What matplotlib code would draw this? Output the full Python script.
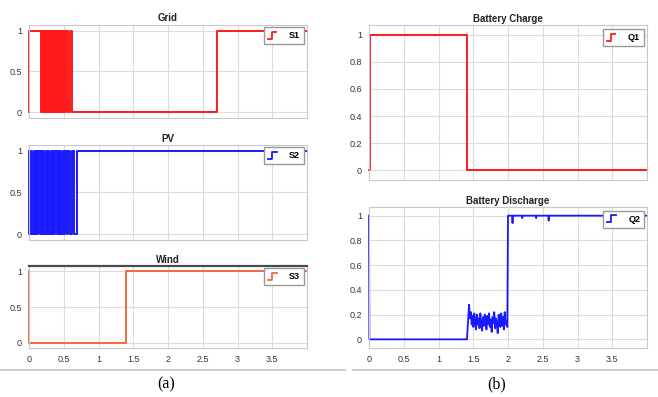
import numpy as np
import matplotlib
matplotlib.use("Agg")
import matplotlib.pyplot as plt
from matplotlib.lines import Line2D
from matplotlib.legend_handler import HandlerBase

plt.rcParams['font.family'] = ['Liberation Sans', 'DejaVu Sans']

# ---- data (switching signals, time in s) ----
grid_t = [0, 0.004, 0.170, 0.183, 0.192, 0.205, 0.214, 0.226, 0.235, 0.248,
          0.257, 0.270, 0.279, 0.291, 0.300, 0.313, 0.322, 0.335, 0.344, 0.356,
          0.365, 0.378, 0.387, 0.400, 0.409, 0.421, 0.430, 0.443, 0.452, 0.465,
          0.474, 0.486, 0.495, 0.505, 0.520, 0.535, 0.565, 0.585, 0.612, 2.70, 4.0]
grid_v = [0, 1, 0, 1, 0, 1, 0, 1, 0, 1,
          0, 1, 0, 1, 0, 1, 0, 1, 0, 1,
          0, 1, 0, 1, 0, 1, 0, 1, 0, 1,
          0, 1, 0, 1, 0, 1, 0, 1, 0, 1, 1]

pv_t = [0, 0.006, 0.030, 0.048, 0.066, 0.084, 0.100, 0.118, 0.136, 0.152,
        0.170, 0.188, 0.204, 0.222, 0.240, 0.256, 0.274, 0.292, 0.310, 0.326,
        0.344, 0.362, 0.378, 0.396, 0.414, 0.432, 0.448, 0.466, 0.484, 0.502,
        0.520, 0.548, 0.566, 0.596, 0.614, 0.645, 0.695, 4.0]
pv_v = [1, 0, 1, 0, 1, 0, 1, 0, 1, 0,
        1, 0, 1, 0, 1, 0, 1, 0, 1, 0,
        1, 0, 1, 0, 1, 0, 1, 0, 1, 0,
        1, 0, 1, 0, 1, 0, 1, 1]

wind_t = [0, 0.005, 1.40, 4.0]
wind_v = [1, 0, 1, 1]

charge_t = [0, 0.012, 1.41, 4.0]
charge_v = [0, 1, 0, 0]

discharge_t = [0, 0.005, 1.41, 1.425, 1.440, 1.452, 1.465, 1.477, 1.490,
               1.502, 1.515, 1.527, 1.540, 1.552, 1.565, 1.577, 1.590, 1.602,
               1.615, 1.627, 1.640, 1.652, 1.665, 1.677, 1.690, 1.702, 1.715,
               1.727, 1.740, 1.752, 1.765, 1.777, 1.790, 1.802, 1.815, 1.827,
               1.840, 1.852, 1.865, 1.877, 1.890, 1.902, 1.915, 1.927, 1.940,
               1.952, 1.965, 1.977, 1.990, 2.000, 2.010, 2.060, 2.065, 2.070,
               2.200, 2.205, 2.210, 2.400, 2.405, 2.410, 2.580, 2.585, 2.590, 4.0]
discharge_v = [1, 0, 0, 0.15, 0.28, 0.17, 0.22, 0.12, 0.19,
               0.10, 0.21, 0.14, 0.08, 0.20, 0.12, 0.17, 0.09, 0.21,
               0.13, 0.07, 0.18, 0.11, 0.20, 0.15, 0.08, 0.19, 0.12,
               0.21, 0.10, 0.16, 0.06, 0.18, 0.13, 0.22, 0.09, 0.17,
               0.12, 0.05, 0.20, 0.14, 0.10, 0.21, 0.11, 0.18, 0.08,
               0.22, 0.12, 0.15, 0.10, 1.0, 1.0, 1.0, 0.94, 1.0,
               1.0, 0.98, 1.0, 1.0, 0.98, 1.0, 1.0, 0.96, 1.0, 1.0]

xticks = [0, 0.5, 1, 1.5, 2, 2.5, 3, 3.5]
xlabels = ['0', '0.5', '1', '1.5', '2', '2.5', '3', '3.5']

RED = '#ff1a1a'
BLUE = '#1a1aff'
ORANGE = '#f06a3c'


class StepHandler(HandlerBase):
    def create_artists(self, legend, orig_handle, xdescent, ydescent,
                       width, height, fontsize, trans):
        xs = np.array([0.0, 0.45, 0.45, 0.9]) * width - xdescent
        ys = np.array([-0.1, -0.1, 1.0, 1.0]) * height - ydescent
        ln = Line2D(xs, ys, color=orig_handle.get_color(), lw=1.3, transform=trans)
        return [ln]


def style(ax, title, yticks, ylabels, show_x, top_dark=False):
    ax.set_xlim(0, 4)
    ax.set_ylim(-0.07, 1.07)
    ax.set_xticks(xticks)
    ax.set_xticklabels(xlabels if show_x else [])
    ax.set_yticks(yticks)
    ax.set_yticklabels(ylabels)
    ax.tick_params(length=0, labelsize=6.5, colors='#333333', pad=5)
    ax.grid(True, color='#dcdcdc', lw=0.8)
    ax.set_axisbelow(True)
    for s in ax.spines.values():
        s.set_color('#c8c8c8')
        s.set_linewidth(0.8)
    if top_dark:
        ax.spines['top'].set_color('#4a4a4a')
        ax.spines['top'].set_linewidth(1.6)
    ax.set_title(title, fontsize=7, fontweight='bold', pad=2.5, color='#222222')


def add_legend(ax, line, label):
    ax.legend([line], [label], handler_map={Line2D: StepHandler()},
              loc='upper right', bbox_to_anchor=(0.99, 0.975),
              borderaxespad=0, fancybox=False, edgecolor='#999999',
              framealpha=1, prop={'size': 6.5, 'weight': 'bold'},
              handlelength=1.0, handletextpad=1.3, borderpad=0.45)


fig = plt.figure(figsize=(6.58, 3.97), dpi=100)

ax1 = fig.add_axes([0.0441, 0.7028, 0.4225, 0.2343])
ax2 = fig.add_axes([0.0441, 0.3955, 0.4225, 0.2393])
ax3 = fig.add_axes([0.0441, 0.1234, 0.4225, 0.2065])
ax4 = fig.add_axes([0.5608, 0.5466, 0.4225, 0.3904])
ax5 = fig.add_axes([0.5608, 0.1234, 0.4225, 0.3552])

l1, = ax1.step(grid_t, grid_v, where='post', color=RED, lw=1.4, clip_on=False)
style(ax1, 'Grid', [0, 0.5, 1], ['0', '0.5', '1'], False)
add_legend(ax1, l1, 'S1')

l2, = ax2.step(pv_t, pv_v, where='post', color=BLUE, lw=1.4, clip_on=False)
style(ax2, 'PV', [0, 0.5, 1], ['0', '0.5', '1'], False)
add_legend(ax2, l2, 'S2')

l3, = ax3.step(wind_t, wind_v, where='post', color=ORANGE, lw=1.4, clip_on=False)
style(ax3, 'Wind', [0, 0.5, 1], ['0', '0.5', '1'], True, top_dark=True)
add_legend(ax3, l3, 'S3')

yt = [0, 0.2, 0.4, 0.6, 0.8, 1]
yl = ['0', '0.2', '0.4', '0.6', '0.8', '1']

l4, = ax4.step(charge_t, charge_v, where='post', color=RED, lw=1.4, clip_on=False)
style(ax4, 'Battery Charge', yt, yl, False)
add_legend(ax4, l4, 'Q1')

l5, = ax5.plot(discharge_t, discharge_v, color=BLUE, lw=1.3, clip_on=False)
style(ax5, 'Battery Discharge', yt, yl, True)
add_legend(ax5, l5, 'Q2')

# separators and panel labels
fig.add_artist(Line2D([0.0, 0.525], [1 - 370 / 397] * 2, color='#cfcfcf', lw=1.5))
fig.add_artist(Line2D([0.537, 1.0], [1 - 370 / 397] * 2, color='#cfcfcf', lw=1.5))
fig.text(0.252, 1 - 384 / 397, '(a)', ha='center', va='center', fontsize=11.5,
         family='Liberation Serif')
fig.text(0.755, 1 - 384 / 397, '(b)', ha='center', va='center', fontsize=11.5,
         family='Liberation Serif')

fig.savefig('out.png', dpi=100)
